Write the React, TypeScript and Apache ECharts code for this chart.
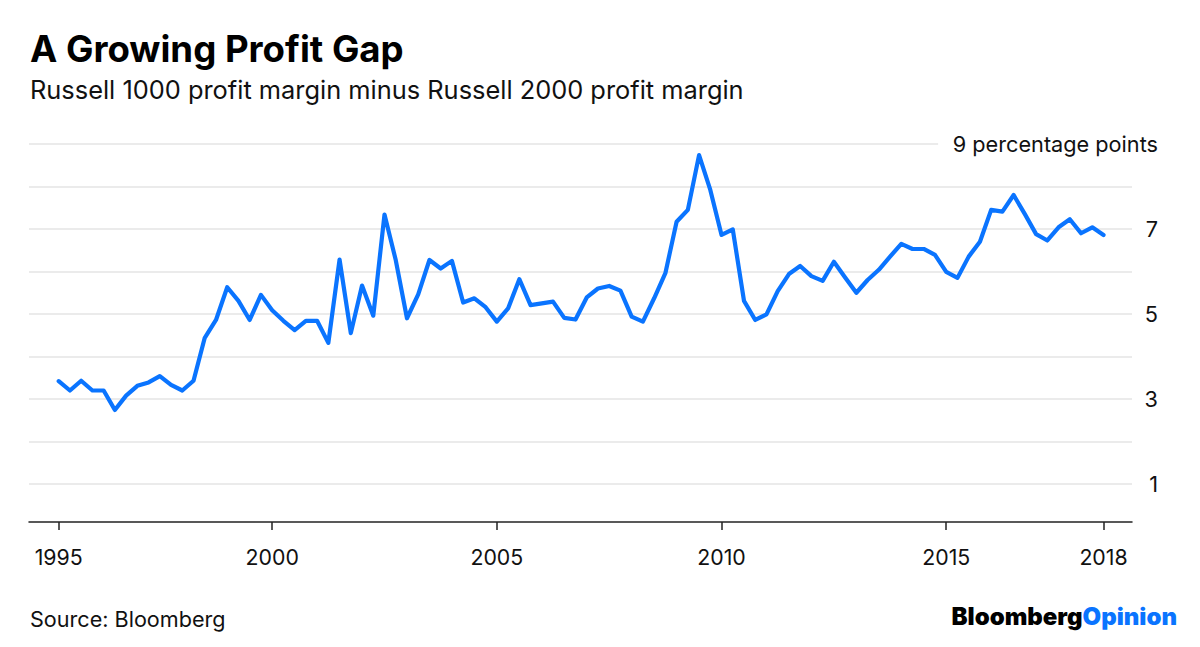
import React, { useEffect, useRef } from "react";
import * as echarts from "echarts";

// Quarterly data, first quarter ends 1995 Q1, last 2018 Q2
const START_QUARTER = 1995.25;
const QUARTER_STEP = 0.25;
const profitGap: number[] = [
  3.42, 3.2, 3.43, 3.2, 3.2, 2.74, 3.08, 3.31, 3.39, 3.54,
  3.33, 3.2, 3.43, 4.44, 4.86, 5.63, 5.31, 4.86, 5.45, 5.09,
  4.84, 4.62, 4.84, 4.84, 4.32, 6.28, 4.55, 5.67, 4.96, 7.34,
  6.27, 4.9, 5.46, 6.27, 6.07, 6.25, 5.27, 5.37, 5.16, 4.82,
  5.13, 5.82, 5.21, 5.25, 5.29, 4.91, 4.87, 5.39, 5.6, 5.66,
  5.55, 4.94, 4.82, 5.37, 5.96, 7.17, 7.45, 8.74, 7.92, 6.86,
  6.99, 5.31, 4.86, 4.99, 5.54, 5.94, 6.13, 5.89, 5.78, 6.23,
  5.86, 5.5, 5.8, 6.04, 6.35, 6.65, 6.53, 6.53, 6.39, 5.99,
  5.85, 6.35, 6.7, 7.45, 7.41, 7.8, 7.35, 6.88, 6.73, 7.04,
  7.23, 6.9, 7.04, 6.86,
];
const xTickValues = [1995.25, 2000, 2005, 2010, 2015, 2018.5];
const xTickLabels = ["1995", "2000", "2005", "2010", "2015", "2018"];
const yLabelled = [1, 3, 5, 7, 9];
const yUnitLabel = "9 percentage points";

const TITLE = "A Growing Profit Gap";
const SUBTITLE = "Russell 1000 profit margin minus Russell 2000 profit margin";
const SOURCE = "Source: Bloomberg";

const X_MIN = 1994.589;
const X_MAX = 2019.134;
const TOP_GRID_END = 2014.82;

const FONT = "Inter, 'Liberation Sans', Arial, sans-serif";

export default function App() {
  const ref = useRef<HTMLDivElement>(null);
  useEffect(() => {
    if (!ref.current) return;
    const chart = echarts.init(ref.current, null, { renderer: "svg" });
    const seriesData = profitGap.map((v, i) => [START_QUARTER + i * QUARTER_STEP, v]);
    chart.setOption({
      animation: false,
      backgroundColor: "#ffffff",
      grid: { left: 29, right: 68, top: 144, bottom: 120.5, containLabel: false },
      xAxis: {
        type: "value",
        min: X_MIN,
        max: X_MAX,
        offset: -4.5,
        axisLine: { show: true, lineStyle: { color: "#222", width: 1.5 } },
        axisTick: {
          show: true,
          length: 8,
          lineStyle: { color: "#222", width: 1.5 },
          customValues: xTickValues,
        },
        axisLabel: {
          customValues: xTickValues,
          formatter: (v: number) => {
            const idx = xTickValues.findIndex((t) => Math.abs(t - v) < 1e-6);
            return idx >= 0 ? xTickLabels[idx] : "";
          },
          color: "#111",
          fontSize: 21.3,
          fontFamily: FONT,
          margin: 24,
        },
        splitLine: { show: false },
      },
      yAxis: {
        type: "value",
        position: "right",
        min: 0,
        max: 9,
        interval: 1,
        axisLine: { show: false },
        axisTick: { show: false },
        axisLabel: {
          align: "right",
          margin: 26,
          color: "#111",
          fontSize: 21.7,
          fontFamily: FONT,
          formatter: (v: number) => {
            if (!yLabelled.includes(v)) return "";
            return v === 9 ? yUnitLabel : String(v);
          },
        },
        splitLine: {
          show: true,
          showMinLine: false,
          showMaxLine: false,
          lineStyle: { color: "#ebebeb", width: 2 },
        },
      },
      series: [
        {
          type: "line",
          data: seriesData,
          showSymbol: false,
          symbol: "none",
          lineStyle: { color: "#0a74ff", width: 4.2, join: "round", cap: "round" },
          markLine: {
            silent: true,
            symbol: "none",
            label: { show: false },
            lineStyle: { color: "#ebebeb", width: 2, type: "solid" },
            data: [[{ coord: [X_MIN, 9] }, { coord: [TOP_GRID_END, 9] }]],
          },
          z: 3,
        },
      ],
      graphic: [
        {
          type: "text",
          left: 30,
          top: 30,
          style: { text: TITLE, font: `bold 36.6px ${FONT}`, fill: "#000" },
        },
        {
          type: "text",
          left: 30,
          top: 77,
          style: { text: SUBTITLE, font: `25.4px ${FONT}`, fill: "#111" },
        },
        {
          type: "text",
          left: 30,
          top: 608,
          style: { text: SOURCE, font: `21.6px ${FONT}`, fill: "#111" },
        },
        {
          type: "text",
          right: 23,
          top: 604,
          style: {
            text: "{a|Bloomberg}{b|Opinion}",
            rich: {
              a: { font: `900 24px ${FONT}`, fill: "#000" },
              b: { font: `900 24px ${FONT}`, fill: "#0a74ff" },
            },
          },
        },
      ],
    });
    return () => chart.dispose();
  }, []);
  return (
    <div
      ref={ref}
      style={{ position: "fixed", left: 0, top: 0, width: 1200, height: 647 }}
    />
  );
}
